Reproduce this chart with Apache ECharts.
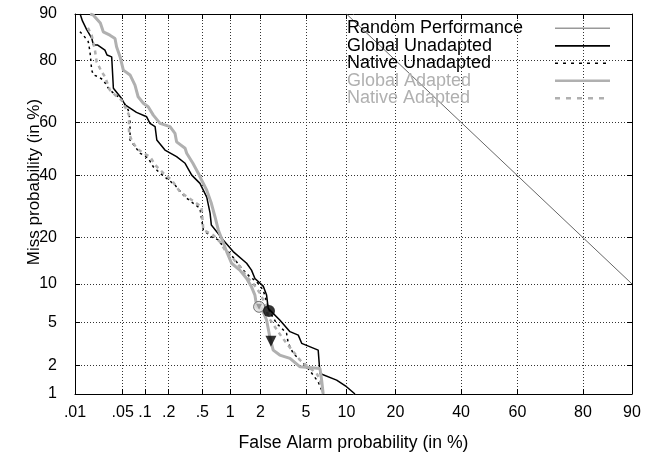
<!DOCTYPE html>
<html><head><meta charset="utf-8">
<script src="https://cdn.jsdelivr.net/npm/echarts@6/dist/echarts.min.js"></script>
<style>html,body{margin:0;padding:0;background:#fff}#c{width:665px;height:452px}</style>
</head><body><div id="c"></div>
<script>
// ---- data (percent) ----
const xTickValues = [0.01,0.05,0.1,0.2,0.5,1,2,5,10,20,40,60,80,90];
const xTickLabels = ['.01','.05','.1','.2','.5','1','2','5','10','20','40','60','80','90'];
const yTickValues = [1,2,5,10,20,40,60,80,90];
const yTickLabels = ['1','2','5','10','20','40','60','80','90'];
const xRange = [0.01, 90];
const yRange = [1, 90];
const seriesNames = ['Random Performance','Global Unadapted','Native Unadapted','Global Adapted','Native Adapted'];

const randomPerformance = [[10,90],[90,10]];
const globalUnadapted = [[0.012,90],[0.013,88.8],[0.015,87.2],[0.018,85.3],[0.019,83.8],[0.022,83.8],[0.028,82.6],[0.03,81.4],[0.035,80.9],[0.037,71.8],[0.048,68.5],[0.054,66.2],[0.077,63.6],[0.105,62.0],[0.116,59.6],[0.135,58.4],[0.142,53.4],[0.18,49.6],[0.25,47.1],[0.316,44.6],[0.378,40.2],[0.47,37.2],[0.56,32.4],[0.61,27.1],[0.63,23.5],[0.845,19.4],[1.075,16.5],[1.47,13.9],[1.64,12.5],[1.77,10.95],[2.12,9.65],[2.28,8.27],[2.36,6.51],[3.0,5.22],[3.68,4.14],[4.32,3.86],[4.61,3.25],[6.23,2.81],[6.43,1.65],[8.53,1.41],[10.0,1.2],[11.4,1.0]];
const nativeUnadapted = [[0.0119,86.7],[0.0134,86.0],[0.0159,84.6],[0.0169,82.2],[0.0179,77.3],[0.019,75.9],[0.022,75.4],[0.0265,74.4],[0.0313,71.8],[0.037,70.2],[0.0434,69.0],[0.051,67.3],[0.0596,64.4],[0.063,60.8],[0.063,53.4],[0.0858,48.4],[0.11,46.5],[0.128,43.3],[0.156,40.9],[0.189,39.0],[0.239,36.6],[0.316,32.4],[0.395,30.3],[0.47,28.65],[0.513,22.1],[0.63,20.2],[0.75,19.4],[0.845,17.7],[0.995,16.1],[1.164,14.2],[1.357,12.5],[1.58,11.25],[1.84,10.37],[2.12,9.02],[2.28,7.34],[2.44,6.08],[2.81,4.89],[3.12,4.43],[3.44,4.0],[3.56,3.25],[3.93,2.61],[4.47,2.25],[5.06,1.93],[5.7,1.59],[6.23,1.35],[6.8,1.0]];
const globalAdapted = [[0.017,90],[0.019,89.8],[0.024,88.4],[0.0265,86.7],[0.033,86.0],[0.039,85.3],[0.041,83.4],[0.046,80.9],[0.051,77.3],[0.063,75.9],[0.0735,72.8],[0.081,69.0],[0.095,66.8],[0.11,65.6],[0.128,62.6],[0.156,59.6],[0.208,58.4],[0.239,55.9],[0.25,52.7],[0.316,50.3],[0.33,48.4],[0.39,44.6],[0.45,40.9],[0.49,38.4],[0.56,34.8],[0.63,30.3],[0.69,26.0],[0.75,22.1],[0.92,16.5],[1.035,13.9],[1.256,12.5],[1.469,10.95],[1.64,9.53],[1.77,8.27],[1.84,6.71],[2.05,6.51],[2.28,5.22],[2.44,3.73],[2.62,2.81],[3.0,2.52],[3.68,2.34],[4.47,1.93],[6.43,1.86],[6.62,1.41],[6.8,1.0]];
const nativeAdapted = [[0.0157,87.5],[0.0179,86.0],[0.02,82.6],[0.0212,79.6],[0.0251,76.8],[0.028,75.4],[0.033,71.2],[0.039,69.6],[0.048,67.9],[0.0567,64.4],[0.061,62.6],[0.061,61.6],[0.061,55.9],[0.066,53.4],[0.077,50.3],[0.095,48.4],[0.116,47.1],[0.135,44.0],[0.172,40.9],[0.218,38.4],[0.275,34.2],[0.378,31.4],[0.49,29.1],[0.513,22.1],[0.66,20.7],[0.78,18.9],[0.88,16.9],[1.035,15.3],[1.256,13.2],[1.469,11.25],[1.70,10.1],[1.98,8.53],[2.2,7.13],[2.36,5.56],[2.71,4.57],[3.12,3.73],[3.44,3.25],[3.93,2.71],[4.47,2.25],[5.21,1.93],[6.06,1.66],[6.43,1.41],[6.8,1.0]];
const pointGlobalUnadapted = [[2.4,6.2]];
const pointNativeUnadapted = [[2.5,3.4]];
const pointGlobalAdapted = [[1.94,6.7]];

// ---- probit transform ----
function probit(pct){
  const p = pct/100;
  const a=[-3.969683028665376e+01,2.209460984245205e+02,-2.759285104469687e+02,1.383577518672690e+02,-3.066479806614716e+01,2.506628277459239e+00];
  const b=[-5.447609879822406e+01,1.615858368580409e+02,-1.556989798598866e+02,6.680131188771972e+01,-1.328068155288572e+01];
  const c=[-7.784894002430293e-03,-3.223964580411365e-01,-2.400758277161838e+00,-2.549732539343734e+00,4.374664141464968e+00,2.938163982698783e+00];
  const d=[7.784695709041462e-03,3.224671290700398e-01,2.445134137142996e+00,3.754408661907416e+00];
  const pl=0.02425, ph=1-pl; let q,r;
  if(p<pl){q=Math.sqrt(-2*Math.log(p));return (((((c[0]*q+c[1])*q+c[2])*q+c[3])*q+c[4])*q+c[5])/((((d[0]*q+d[1])*q+d[2])*q+d[3])*q+1);}
  if(p<=ph){q=p-0.5;r=q*q;return (((((a[0]*r+a[1])*r+a[2])*r+a[3])*r+a[4])*r+a[5])*q/(((((b[0]*r+b[1])*r+b[2])*r+b[3])*r+b[4])*r+1);}
  q=Math.sqrt(-2*Math.log(1-p));return -(((((c[0]*q+c[1])*q+c[2])*q+c[3])*q+c[4])*q+c[5])/((((d[0]*q+d[1])*q+d[2])*q+d[3])*q+1);
}
const tr = arr => arr.map(([x,y]) => [probit(x), probit(y)]);
const xTicksP = xTickValues.map(probit);
const yTicksP = yTickValues.map(probit);
function fmt(ticksP, labels){ return v => { for(let i=0;i<ticksP.length;i++){ if(Math.abs(ticksP[i]-v)<1e-6) return labels[i]; } return ''; }; }

const FONT = 'Liberation Sans, Arial, Helvetica, sans-serif';
const FS = 17;
const GRAY = '#b0b0b0';

function xAxisDef(pos, showLabel){
  return {
    type:'value', position:pos, min:probit(xRange[0]), max:probit(xRange[1]),
    axisLine:{show:true, onZero:false, lineStyle:{color:'#000', width:1}},
    axisTick:{show:true, inside:true, length:5, customValues:xTicksP, lineStyle:{color:'#000'}},
    axisLabel:{show:showLabel, customValues:xTicksP, formatter:fmt(xTicksP,xTickLabels), color:'#000', fontFamily:FONT, fontSize:FS-1, margin:11, hideOverlap:false, showMinLabel:true, showMaxLabel:true},
    splitLine:{show:showLabel, lineStyle:{color:'#333', width:1, type:[1,2]}},
    name: showLabel ? 'False Alarm probability (in %)' : '', nameLocation:'middle', nameGap:40,
    nameTextStyle:{color:'#000', fontFamily:FONT, fontSize:17.6}
  };
}
function yAxisDef(pos, showLabel){
  return {
    type:'value', position:pos, min:probit(yRange[0]), max:probit(yRange[1]),
    axisLine:{show:true, onZero:false, lineStyle:{color:'#000', width:1}},
    axisTick:{show:true, inside:true, length:5, customValues:yTicksP, lineStyle:{color:'#000'}},
    axisLabel:{show:showLabel, customValues:yTicksP, formatter:fmt(yTicksP,yTickLabels), color:'#000', fontFamily:FONT, fontSize:FS-1, margin:18, hideOverlap:false, showMinLabel:true, showMaxLabel:true},
    splitLine:{show:showLabel, lineStyle:{color:'#333', width:1, type:[1,2]}}
  };
}

const lineStyles = [
  {color:'#666', width:1, type:'solid'},
  {color:'#000', width:1.5, type:'solid'},
  {color:'#000', width:1.5, type:[2.5,3.5]},
  {color:GRAY, width:3, type:'solid'},
  {color:GRAY, width:2.5, type:[4,4]}
];
const legendLineStyles = [
  {stroke:'#999', lineWidth:1.5},
  {stroke:'#000', lineWidth:1.8},
  {stroke:'#000', lineWidth:1.5, lineDash:[3,5]},
  {stroke:GRAY, lineWidth:2.5},
  {stroke:GRAY, lineWidth:2.5, lineDash:[5,6]}
];
const legendTextColors = ['#000','#000','#000',GRAY,GRAY];
const curveData = [randomPerformance, globalUnadapted, nativeUnadapted, globalAdapted, nativeAdapted];

const series = curveData.map((d,i) => ({
  name: seriesNames[i], type:'line', data: tr(d), xAxisIndex:0, yAxisIndex:0,
  showSymbol:false, symbol:'none', lineStyle: lineStyles[i], clip:true, animation:false, z: 2+i
}));
series.push({type:'scatter', data:tr(pointGlobalAdapted), symbol:'circle', symbolSize:11,
  itemStyle:{color:'#ddd', borderColor:'#555', borderWidth:1}, z:10, animation:false});
series.push({type:'scatter', data:tr(pointGlobalAdapted), symbol:'triangle', symbolRotate:180, symbolSize:6,
  itemStyle:{color:'#888'}, z:11, animation:false});
series.push({type:'scatter', data:tr(pointGlobalUnadapted), symbol:'circle', symbolSize:12,
  itemStyle:{color:'#000'}, z:12, animation:false});
series.push({type:'scatter', data:tr(pointNativeUnadapted), symbol:'triangle', symbolRotate:180, symbolSize:11,
  itemStyle:{color:'#000'}, z:12, animation:false});

const legendEls = [];
seriesNames.forEach((n,i) => {
  const cy = 28.3 + i*17.5;
  legendEls.push({type:'text', x:347, y:cy, z:100, style:{text:n, fill:legendTextColors[i], font:'18px '+FONT, verticalAlign:'middle'}});
  legendEls.push({type:'line', z:100, shape:{x1:555, y1:cy, x2:610, y2:cy}, style:Object.assign({}, legendLineStyles[i])});
});
legendEls.push({type:'text', x:34, y:182, rotation:Math.PI/2, z:100,
  style:{text:'Miss probability (in %)', fill:'#000', font:FS+'px '+FONT, align:'center', verticalAlign:'middle'}});

const chart = echarts.init(document.getElementById('c'), null, {renderer:'canvas'});
chart.setOption({
  animation:false,
  backgroundColor:'#fff',
  grid:{left:75, right:33, top:14, bottom:58, show:false, containLabel:false, outerBoundsMode:'none'},
  xAxis:[xAxisDef('bottom', true), xAxisDef('top', false)],
  yAxis:[yAxisDef('left', true), yAxisDef('right', false)],
  series: series,
  graphic: legendEls
});
</script></body></html>
